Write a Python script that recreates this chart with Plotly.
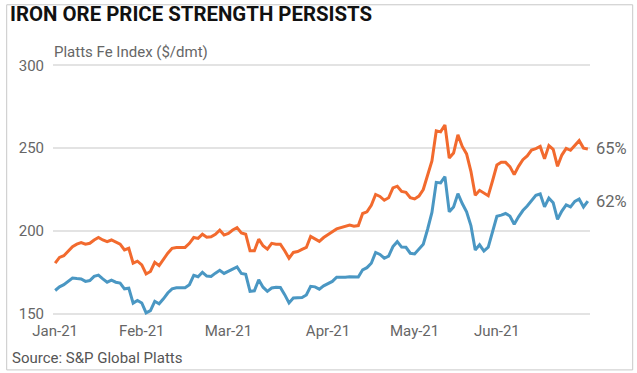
import pandas as pd
import plotly.graph_objects as go

# ---- data ----
holidays = ["2021-01-01", "2021-04-02", "2021-04-05", "2021-05-03", "2021-05-31"]
dates = [d.strftime("%Y-%m-%d") for d in
         pd.bdate_range("2021-01-01", "2021-06-30", freq="C", holidays=holidays)]

fe65 = [180.5, 184, 185, 188, 190.5, 192, 193, 192, 192.5, 194.5,
        196, 194.5, 193.5, 194.5, 193, 192, 188.5, 189.5, 180.5, 181.7,
        179.5, 174, 175.5, 181, 179, 183, 186.5, 189.5, 190, 190,
        190, 192.5, 196, 195.5, 198, 196.2, 196.5, 198, 200.5, 197.5,
        198.5, 200.5, 202, 198.8, 198, 188, 188, 195, 191, 189,
        192.5, 192, 192, 188, 183.5, 187, 187.5, 188.8, 190, 196.7,
        195, 193.7, 196, 197.5, 199.5, 201.2, 202, 202.5, 203.5, 202.8,
        203.2, 210.5, 211.5, 215.5, 222, 220.8, 218.5, 220, 226, 227,
        223.8, 223.3, 220, 219.3, 221, 225, 234.5, 242.3, 260.4, 259.8,
        264, 244, 247, 258, 251, 246.5, 236, 221.5, 224.5, 223,
        221.2, 230.3, 239.8, 241.5, 241.4, 238.8, 234, 239, 243, 245.3,
        248.8, 249.7, 251, 243.5, 251.5, 249.2, 239, 245.8, 249.8, 248.7,
        251.8, 254.5, 250, 249.5]

fe62 = [164, 166.2, 167.5, 169.5, 171.5, 171.2, 171, 169.5, 170, 172.5,
        173.3, 171, 169, 170.2, 169, 168.5, 165, 165.4, 156.4, 158,
        156.5, 150.5, 151.8, 157.5, 156, 159, 162.5, 165, 165.7, 165.7,
        165.7, 167.5, 173.2, 172.3, 175, 172.7, 172.5, 174.5, 176.2, 174.3,
        175.5, 177, 178.3, 174.3, 173.8, 163.5, 163.8, 170.5, 166, 163.5,
        165.5, 166, 165.8, 161.5, 156.5, 159.5, 159.6, 159.8, 161.3, 166.5,
        166.2, 164.8, 166.8, 168, 169.5, 172, 171.8, 172, 172.3, 172.3,
        172.2, 176.5, 177.8, 180.5, 187, 185.8, 183.5, 184.8, 190.5, 193.5,
        190.2, 190.1, 186.5, 186.1, 188.8, 192, 201, 211.2, 229.3, 229,
        232.8, 211.5, 214.5, 222.5, 216.5, 211.5, 203.2, 188.5, 191.6, 187.8,
        190.2, 199.6, 208.8, 209.5, 210.5, 209, 204, 208.5, 212.3, 215,
        218.5, 221.5, 222.3, 214.5, 219.8, 217, 207, 212, 215.7, 214.5,
        217.8, 219.3, 214.5, 218]

series_names = ["65%", "62%"]
month_labels = ["Jan-21", "Feb-21", "Mar-21", "Apr-21", "May-21", "Jun-21"]
y_ticks = [150, 200, 250, 300]

# month tick positions: first trading day of each month
month_first = []
seen = set()
for d in dates:
    m = d[:7]
    if m not in seen:
        seen.add(m)
        month_first.append(d)

# ---- layout geometry (pixels) ----
W, H = 637, 373
ML, MR, MT, MB = 52.8, 47.2, 61.7, 56.4
pw, ph = W - ML - MR, H - MT - MB

def px_x(x):
    return (x - ML) / pw

def px_y(y):
    return (H - MB - y) / ph

ORANGE = "#F26A2E"
BLUE = "#4A97C3"
GRAY = "#666666"
FONT = "Roboto"

fig = go.Figure()
fig.add_trace(go.Scatter(x=dates, y=fe65, mode="lines", name=series_names[0],
                         line=dict(color=ORANGE, width=3), hoverinfo="skip"))
fig.add_trace(go.Scatter(x=dates, y=fe62, mode="lines", name=series_names[1],
                         line=dict(color=BLUE, width=3), hoverinfo="skip"))

# end labels
for name, vals in [(series_names[0], fe65), (series_names[1], fe62)]:
    fig.add_annotation(x=1, xref="paper", y=vals[-1], yref="y", text=name,
                       showarrow=False, xanchor="left", xshift=4,
                       font=dict(family=FONT, size=16.5, color=GRAY))

# subtitle
fig.add_annotation(x=px_x(52), y=px_y(51.5), xref="paper", yref="paper",
                   text="Platts Fe Index ($/dmt)", showarrow=False,
                   xanchor="left", yanchor="middle",
                   font=dict(family=FONT, size=15, color=GRAY))
# source
fig.add_annotation(x=px_x(10), y=px_y(358), xref="paper", yref="paper",
                   text="Source: S&P Global Platts", showarrow=False,
                   xanchor="left", yanchor="middle",
                   font=dict(family=FONT, size=15, color="#555555"))

# border
fig.add_shape(type="rect", xref="paper", yref="paper",
              x0=px_x(6.5), x1=px_x(632.5), y0=px_y(369.5), y1=px_y(4.5),
              line=dict(color="#c8c8c8", width=1), fillcolor="rgba(0,0,0,0)",
              layer="above")

fig.update_layout(
    width=W, height=H,
    margin=dict(l=ML, r=MR, t=MT, b=MB, pad=0),
    paper_bgcolor="white", plot_bgcolor="white",
    showlegend=False,
    title=dict(text="<b>IRON ORE PRICE STRENGTH PERSISTS</b>",
               xref="container", yref="container",
               x=10 / W, xanchor="left", y=1 - 6.5 / H, yanchor="top",
               font=dict(family=FONT, size=20.4, color="#111111")),
    xaxis=dict(type="category", range=[-0.5, len(dates) - 0.5],
               tickmode="array", tickvals=month_first, ticktext=month_labels,
               showgrid=False, zeroline=False, showline=False, ticks="",
               ticklabelstandoff=3,
               tickfont=dict(family=FONT, size=15, color=GRAY)),
    yaxis=dict(range=[148, 302], tickmode="array", tickvals=y_ticks,
               showgrid=True, gridcolor="#e3e3e3", gridwidth=1.5,
               zeroline=False, showline=False, ticks="",
               ticklabelstandoff=8,
               tickfont=dict(family=FONT, size=15, color=GRAY)),
)

fig.write_html("out.html", config={"displayModeBar": False},
               post_script="document.body.style.margin='0';")
